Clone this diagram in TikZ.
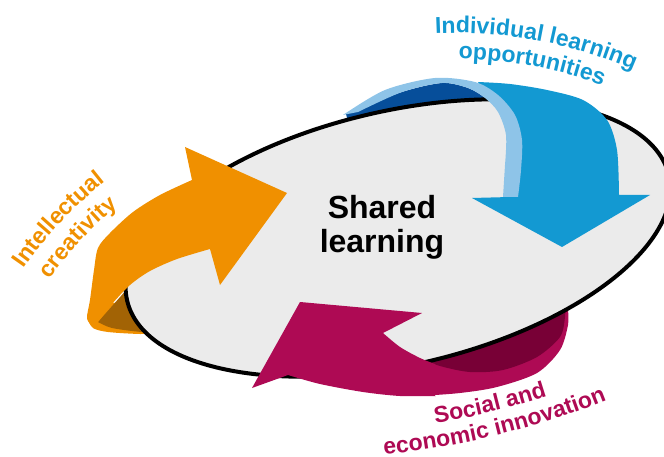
\documentclass[tikz,border=0pt]{standalone}
\usepackage{fontspec}
\setmainfont{Liberation Sans}
\usetikzlibrary{decorations.text}
\definecolor{sharegray}{HTML}{EBEBEB}
\definecolor{indblue}{HTML}{1399D2}
\definecolor{indlight}{HTML}{8EC4E8}
\definecolor{inddark}{HTML}{064E9A}
\definecolor{creaorange}{HTML}{F09000}
\definecolor{creadark}{HTML}{A26305}
\definecolor{socmagenta}{HTML}{AE0A54}
\definecolor{socdark}{HTML}{780036}
\newcommand\lblfont{\fontsize{23}{23}\selectfont\bfseries}
\begin{document}
\begin{tikzpicture}[x=1pt,y=-1pt,
  arclabel/.style={decorate,decoration={text along path,text align=center,text color=#1}}]
\useasboundingbox (0,0) rectangle (664,457);
% curled parts behind the disc
\fill[creaorange] plot[smooth] coordinates {(87,318) (93,328) (108,332) (140,334) (158,333)} -- (150,310) -- (100,300) -- cycle;
\fill[creadark] plot[smooth] coordinates {(98,322) (112,328) (142,332) (158,331)} -- (160,300) -- (128,288) -- cycle;
\fill[inddark] plot[smooth] coordinates {(346,114) (358,110) (402,92) (442,83) (468,88) (485,98) (498,112)} -- (498,130) -- (350,130) -- cycle;
\fill[socmagenta] plot[smooth] coordinates {(420,396) (460,393) (497,387) (537,373) (560,350) (568,325) (568,310)} -- (540,300) -- (420,340) -- cycle;
\fill[socdark] plot[smooth] coordinates {(420,358) (440,366) (470,372) (503,370) (537,357) (560,337) (565,317) (565,305)} -- (420,340) -- cycle;
% the disc
\draw[line width=4pt,fill=sharegray,rotate around={13:(398,238)}] (398,238) ellipse [x radius=278,y radius=127];
% arrows in front
\fill[creaorange] plot[smooth] coordinates {(192,180) (160,195) (133,212) (110,233) (98,248) (94,270) (90,300) (87,318) (92,326)}
  -- plot[smooth] coordinates {(98,322) (112,304) (130,285) (150,271) (177,259) (210,249)}
  -- (220,285) -- (287,193) -- (185,147) -- cycle;
\fill[indblue] plot[smooth] coordinates {(478,82) (510,84) (547,90) (583,100) (607,120) (617,150) (619,195)}
  -- (650,195) -- (562,247) -- (472,198) -- (510,197) -- (510,120) -- (480,86) -- cycle;
\fill[indlight] plot[smooth] coordinates {(343,115) (385,90) (435,78) (475,82) (498,95) (515,115) (522,140) (521,170) (518,197)}
  -- (503,197) -- plot[smooth] coordinates {(505,165) (506,135) (498,112) (485,98) (468,88) (442,83) (402,92) (358,112)} -- cycle;
\fill[socmagenta] (252,388) -- (300,302) -- (422,313) -- plot[smooth] coordinates {(383,333) (400,347) (420,358) (435,364)}
  -- (435,397) -- plot[smooth] coordinates {(435,396) (400,396) (363,392) (320,384) (288,375)} -- cycle;
% labels
\node[font=\fontsize{32}{34}\selectfont\bfseries,align=center] (shared) at (382,227) {Shared\\learning};
\path[arclabel=indblue,decoration={text={|\lblfont|Individual learning}}]
  (455,480) ++(-95.5:447) arc[start angle=-95.5,end angle=-63.5,radius=447];
\path[arclabel=indblue,decoration={text={|\lblfont|opportunities}}]
  (455,480) ++(-95.5:421) arc[start angle=-95.5,end angle=-63.5,radius=421];
\path[arclabel=creaorange,decoration={text={|\lblfont|Intellectual}}]
  (353,496) ++(-148.8:400) arc[start angle=-148.8,end angle=-124.8,radius=400];
\path[arclabel=creaorange,decoration={text={|\lblfont|creativity}}]
  (353,496) ++(-148.8:373) arc[start angle=-148.8,end angle=-124.8,radius=373];
\path[arclabel=socmagenta,decoration={text={|\lblfont|Social and}}]
  (308,-342) ++(86.3:776) arc[start angle=86.3,end angle=66.3,radius=776];
\path[arclabel=socmagenta,decoration={text={|\lblfont|economic innovation}}]
  (308,-342) ++(86.3:800) arc[start angle=86.3,end angle=66.3,radius=800];
\end{tikzpicture}
\end{document}
